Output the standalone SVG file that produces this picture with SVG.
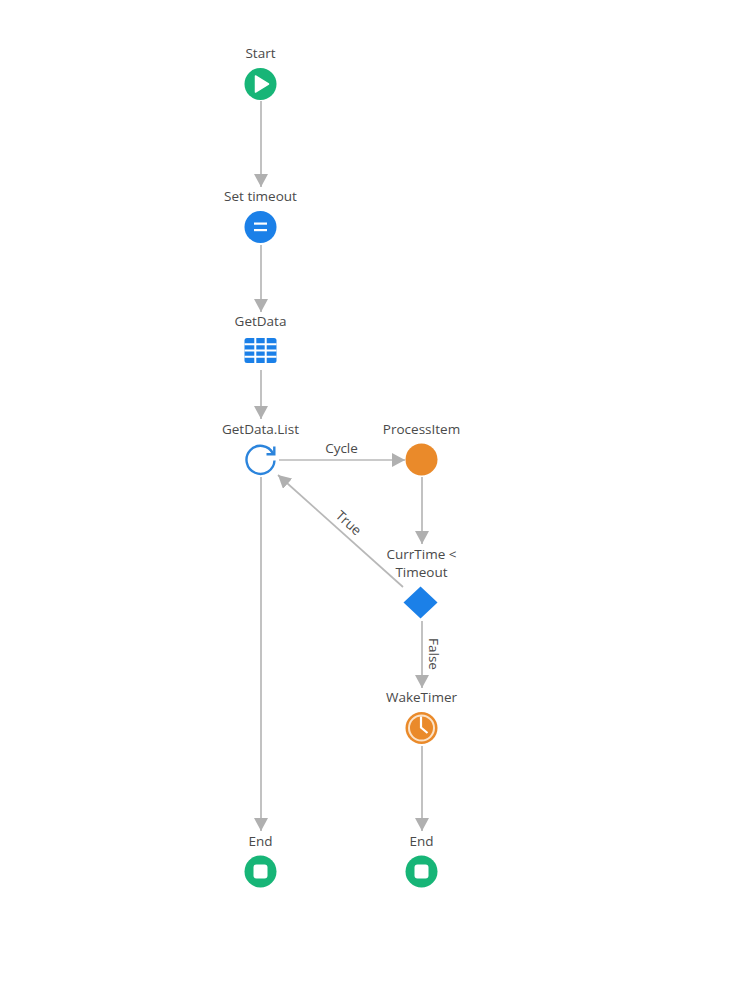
<svg xmlns="http://www.w3.org/2000/svg" width="735" height="1000" viewBox="0 0 735 1000">
<style>
text{font-family:"Open Sans","Noto Sans",sans-serif;font-size:13.5px;fill:#4a4a4a;text-anchor:middle}
.c{fill:none;stroke:#b8b8b8;stroke-width:1.7}
.g{fill:#17b577}.b{fill:#1b80e8}.o{fill:#ea8a2a}
.w{fill:#fff}
</style>
<defs>
<marker id="a" markerUnits="userSpaceOnUse" markerWidth="14" markerHeight="14" refX="13" refY="7" orient="auto"><path d="M0 0L13 7L0 14Z" fill="#b0b0b0"/></marker>
</defs>
<rect width="735" height="1000" fill="#fff"/>
<g id="connectors">
<path class="c" marker-end="url(#a)" d="M261 101V187"/>
<path class="c" marker-end="url(#a)" d="M261 245V312"/>
<path class="c" marker-end="url(#a)" d="M261 370V419"/>
<path class="c" marker-end="url(#a)" d="M279 460H405"/>
<path class="c" marker-end="url(#a)" d="M261 477V831"/>
<path class="c" marker-end="url(#a)" d="M422 477V544"/>
<path class="c" marker-end="url(#a)" d="M403 587L278 475"/>
<path class="c" marker-end="url(#a)" d="M422 621V688"/>
<path class="c" marker-end="url(#a)" d="M422 746V831"/>
<text x="341.500" y="453">Cycle</text>
<text transform="translate(348.500 523) rotate(41.800)" y="4.500">True</text>
<text transform="translate(433 654) rotate(90)" y="4.500">False</text>
</g>
<g id="start"><text x="260.500" y="58">Start</text><circle class="g" cx="260.500" cy="84" r="16"/><path class="w" d="M255.500 76L268.500 84L255.500 92Z" stroke="#fff" stroke-width="1.500" stroke-linejoin="round"/></g>
<g id="set-timeout"><text x="260.500" y="201">Set timeout</text><circle class="b" cx="260.500" cy="227" r="16"/><rect class="w" x="254" y="222.500" width="13" height="2.200"/><rect class="w" x="254" y="229" width="13" height="2.200"/></g>
<g id="getdata"><text x="260.500" y="326">GetData</text><rect class="b" x="244.500" y="338" width="32" height="25" rx="2.500"/><path stroke="#fff" stroke-width="2" d="M255.300 338V363M265.700 338V363M244.500 344.300H276.500M244.500 350.500H276.500M244.500 356.700H276.500"/></g>
<g id="getdata-list"><text x="260.500" y="433.500">GetData.List</text><path d="M273 453.500A14 14 0 1 0 274.500 460.500" fill="none" stroke="#2b84dc" stroke-width="2.400"/><path d="M274.300 446.500V454.300H266.500" fill="none" stroke="#2b84dc" stroke-width="2.400"/></g>
<g id="processitem"><text x="421.500" y="433.500">ProcessItem</text><circle class="o" cx="421.500" cy="459.500" r="16"/></g>
<g id="decision"><text x="421.500" y="558.500">CurrTime &lt;</text><text x="421.500" y="576.500">Timeout</text><path class="b" d="M420.500 586.500L437.500 602.500L420.500 618.500L403.500 602.500Z"/></g>
<g id="waketimer"><text x="421.500" y="702">WakeTimer</text><circle class="o" cx="421.500" cy="728" r="16"/><circle cx="421.500" cy="728" r="12.500" fill="none" stroke="#fbe3c8" stroke-width="2"/><path d="M421 716.500V727.500L427.500 733" fill="none" stroke="#fff" stroke-width="2.200"/></g>
<g id="end-1"><text x="260.500" y="845.500">End</text><circle class="g" cx="260.500" cy="871.500" r="16"/><rect class="w" x="253.500" y="864.500" width="14" height="14" rx="3"/></g>
<g id="end-2"><text x="421.500" y="845.500">End</text><circle class="g" cx="421.500" cy="871.500" r="16"/><rect class="w" x="414.500" y="864.500" width="14" height="14" rx="3"/></g>
</svg>
